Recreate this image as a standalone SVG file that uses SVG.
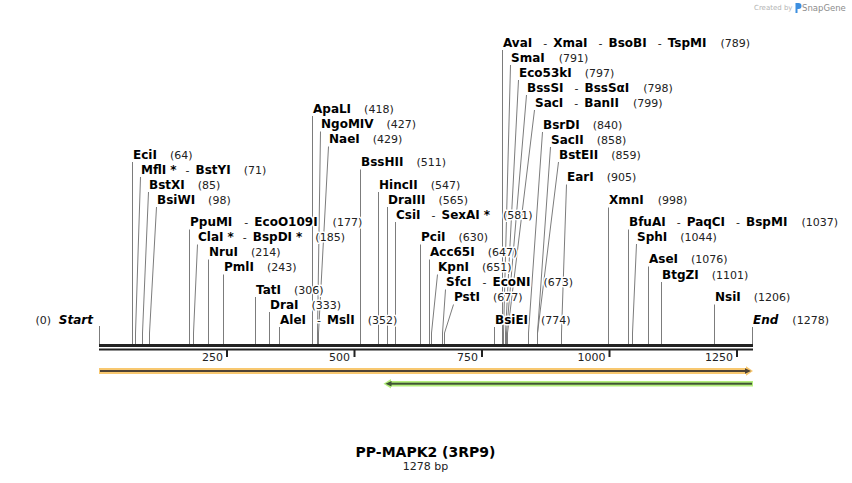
<svg xmlns="http://www.w3.org/2000/svg" width="852" height="483" viewBox="0 0 852 483">
<style>
.nm{font-family:"DejaVu Sans",Verdana,sans-serif;font-weight:bold;font-size:12px;fill:#000;stroke:#fff;stroke-width:3;stroke-linejoin:round;paint-order:stroke}
.pos{font-weight:normal;font-size:11px;fill:#222}
.sep{font-weight:normal;font-size:11px;fill:#222}
.it{font-style:italic}
.ln{fill:none;stroke:#7c7c7c;stroke-width:1}
.tk{font-family:"DejaVu Sans",Verdana,sans-serif;font-size:11px;fill:#222;text-anchor:end}
.bb{fill:#222}
</style>
<rect width="852" height="483" fill="#fff"/>
<g id="watermark">
<text x="754" y="10" font-family="DejaVu Sans,sans-serif" font-size="7px" fill="#b4b4b4">Created by</text>
<path d="M795.5 3 h3 a3 3 0 0 1 0 6 h-1 v4 h-2 z" fill="#3d8fe0"/>
<text x="802" y="11" font-family="DejaVu Sans,sans-serif" font-size="8.5px" fill="#8c8c8c">SnapGene</text>
</g>
<g id="connectors">
<path class="ln" d="M99.5 326V344"/>
<path class="ln" d="M132.5 162V344"/>
<path class="ln" d="M140.5 177L135.5 333V344"/>
<path class="ln" d="M148.5 192L142.5 333V344"/>
<path class="ln" d="M156.5 207L149.5 333V344"/>
<path class="ln" d="M189.5 229.5V344"/>
<path class="ln" d="M197.5 244.5L193.5 333V344"/>
<path class="ln" d="M208.5 259.5V344"/>
<path class="ln" d="M223.5 274.5V344"/>
<path class="ln" d="M255.5 297V344"/>
<path class="ln" d="M269.5 312V344"/>
<path class="ln" d="M279.5 327V344"/>
<path class="ln" d="M312.5 116V344"/>
<path class="ln" d="M320.5 131.5L317.5 333V344"/>
<path class="ln" d="M328.5 146.5L318.5 333V344"/>
<path class="ln" d="M360.5 169.5V344"/>
<path class="ln" d="M378.5 192V344"/>
<path class="ln" d="M387.5 207V344"/>
<path class="ln" d="M395.5 222V344"/>
<path class="ln" d="M420.5 244.5V344"/>
<path class="ln" d="M429.5 259.5V344"/>
<path class="ln" d="M437.5 274.5L431.5 333V344"/>
<path class="ln" d="M445.5 289.5L442.5 333V344"/>
<path class="ln" d="M453.5 304.5L444.5 333V344"/>
<path class="ln" d="M494.5 327V344"/>
<path class="ln" d="M502.5 50V344"/>
<path class="ln" d="M510.5 65L503.5 333V344"/>
<path class="ln" d="M518.5 80L505.5 333V344"/>
<path class="ln" d="M526.5 95L506.5 333V344"/>
<path class="ln" d="M534.5 110L507.5 333V344"/>
<path class="ln" d="M542.5 132L528.5 333V344"/>
<path class="ln" d="M550.5 147L537.5 333V344"/>
<path class="ln" d="M558.5 162L537.5 333V344"/>
<path class="ln" d="M566.5 184.5L561.5 333V344"/>
<path class="ln" d="M608.5 207.5V344"/>
<path class="ln" d="M628.5 229.5V344"/>
<path class="ln" d="M636.5 244L632.5 333V344"/>
<path class="ln" d="M648.5 266.5V344"/>
<path class="ln" d="M661.5 282V344"/>
<path class="ln" d="M714.5 304.5V344"/>
<path class="ln" d="M752.5 327V344"/>
</g>
<g id="backbone">
<rect class="bb" x="99" y="344" width="654" height="3"/>
<rect class="bb" x="99" y="348.5" width="654" height="2"/>
<rect class="bb" x="226" y="350" width="2" height="7"/>
<rect class="bb" x="353.5" y="350" width="2" height="7"/>
<rect class="bb" x="481" y="350" width="2" height="7"/>
<rect class="bb" x="608.5" y="350" width="2" height="7"/>
<rect class="bb" x="736" y="350" width="2" height="7"/>
<text class="tk" x="223" y="361">250</text>
<text class="tk" x="350" y="361">500</text>
<text class="tk" x="478" y="361">750</text>
<text class="tk" x="605.5" y="361">1000</text>
<text class="tk" x="733" y="361">1250</text>
</g>
<g id="feature-orange">
<polygon points="99,368 746,368 746,366.3 753,371 746,375.7 746,374 99,374" fill="#f8c870"/>
<rect x="100" y="370" width="646" height="2" fill="#4e4234"/>
<polygon points="745,368.3 751,371 745,373.7" fill="#4e4234"/>
</g>
<g id="feature-green">
<polygon points="383.5,383.7 391,379 391,381 753,381 753,386.4 391,386.4 391,388.4" fill="#b4ef7c"/>
<rect x="391" y="382.7" width="361" height="2" fill="#3f5334"/>
<polygon points="385.5,383.7 391.5,380.9 391.5,386.5" fill="#3f5334"/>
</g>
<g id="n-Start"><text class="nm pos" x="51" y="324" text-anchor="end">(0)</text><text class="nm it" x="93" y="324" text-anchor="end">Start</text></g>
<g id="n-EciI"><text class="nm" x="133" y="158.5">EciI<tspan class="pos" dx="13">(64)</tspan></text></g>
<g id="n-MflI"><text class="nm" x="141" y="173.5">MflI<tspan dx="4">*</tspan><tspan class="sep" dx="9">-</tspan><tspan dx="6">BstYI</tspan><tspan class="pos" dx="13">(71)</tspan></text></g>
<g id="n-BstXI"><text class="nm" x="149" y="188.5">BstXI<tspan class="pos" dx="13">(85)</tspan></text></g>
<g id="n-BsiWI"><text class="nm" x="157" y="203.5">BsiWI<tspan class="pos" dx="13">(98)</tspan></text></g>
<g id="n-PpuMI"><text class="nm" x="190" y="226">PpuMI<tspan class="sep" dx="12">-</tspan><tspan dx="6">EcoO109I</tspan><tspan class="pos" dx="15">(177)</tspan></text></g>
<g id="n-ClaI"><text class="nm" x="198" y="241">ClaI<tspan dx="4">*</tspan><tspan class="sep" dx="9">-</tspan><tspan dx="6">BspDI</tspan><tspan dx="4">*</tspan><tspan class="pos" dx="13">(185)</tspan></text></g>
<g id="n-NruI"><text class="nm" x="209" y="256">NruI<tspan class="pos" dx="13">(214)</tspan></text></g>
<g id="n-PmlI"><text class="nm" x="224" y="271">PmlI<tspan class="pos" dx="13">(243)</tspan></text></g>
<g id="n-TatI"><text class="nm" x="256" y="293.5">TatI<tspan class="pos" dx="13">(306)</tspan></text></g>
<g id="n-DraI"><text class="nm" x="270" y="308.5">DraI<tspan class="pos" dx="13">(333)</tspan></text></g>
<g id="n-AleI"><text class="nm" x="280" y="323.5">AleI<tspan class="sep" dx="11">-</tspan><tspan dx="6">MslI</tspan><tspan class="pos" dx="13">(352)</tspan></text></g>
<g id="n-ApaLI"><text class="nm" x="313" y="112.5">ApaLI<tspan class="pos" dx="13">(418)</tspan></text></g>
<g id="n-NgoMIV"><text class="nm" x="321" y="128">NgoMIV<tspan class="pos" dx="13">(427)</tspan></text></g>
<g id="n-NaeI"><text class="nm" x="329" y="143">NaeI<tspan class="pos" dx="13">(429)</tspan></text></g>
<g id="n-BssHII"><text class="nm" x="361" y="166">BssHII<tspan class="pos" dx="13">(511)</tspan></text></g>
<g id="n-HincII"><text class="nm" x="379" y="188.5">HincII<tspan class="pos" dx="13">(547)</tspan></text></g>
<g id="n-DraIII"><text class="nm" x="388" y="203.5">DraIII<tspan class="pos" dx="13">(565)</tspan></text></g>
<g id="n-CsiI"><text class="nm" x="396" y="218.5">CsiI<tspan class="sep" dx="11">-</tspan><tspan dx="6">SexAI</tspan><tspan dx="4">*</tspan><tspan class="pos" dx="13">(581)</tspan></text></g>
<g id="n-PciI"><text class="nm" x="421" y="241">PciI<tspan class="pos" dx="13">(630)</tspan></text></g>
<g id="n-Acc65I"><text class="nm" x="430" y="256">Acc65I<tspan class="pos" dx="13">(647)</tspan></text></g>
<g id="n-KpnI"><text class="nm" x="438" y="271">KpnI<tspan class="pos" dx="13">(651)</tspan></text></g>
<g id="n-SfcI"><text class="nm" x="446" y="286">SfcI<tspan class="sep" dx="11">-</tspan><tspan dx="6">EcoNI</tspan><tspan class="pos" dx="13">(673)</tspan></text></g>
<g id="n-PstI"><text class="nm" x="454" y="301">PstI<tspan class="pos" dx="13">(677)</tspan></text></g>
<g id="n-BsiEI"><text class="nm" x="495" y="323.5">BsiEI<tspan class="pos" dx="13">(774)</tspan></text></g>
<g id="n-AvaI"><text class="nm" x="503" y="46.5">AvaI<tspan class="sep" dx="11">-</tspan><tspan dx="6">XmaI</tspan><tspan class="sep" dx="11">-</tspan><tspan dx="6">BsoBI</tspan><tspan class="sep" dx="11">-</tspan><tspan dx="6">TspMI</tspan><tspan class="pos" dx="14">(789)</tspan></text></g>
<g id="n-SmaI"><text class="nm" x="511" y="61.5">SmaI<tspan class="pos" dx="14">(791)</tspan></text></g>
<g id="n-Eco53kI"><text class="nm" x="519" y="76.5">Eco53kI<tspan class="pos" dx="13">(797)</tspan></text></g>
<g id="n-BssSI"><text class="nm" x="527" y="91.5">BssSI<tspan class="sep" dx="11">-</tspan><tspan dx="6">BssSαI</tspan><tspan class="pos" dx="14">(798)</tspan></text></g>
<g id="n-SacI"><text class="nm" x="535" y="106.5">SacI<tspan class="sep" dx="11">-</tspan><tspan dx="6">BanII</tspan><tspan class="pos" dx="14">(799)</tspan></text></g>
<g id="n-BsrDI"><text class="nm" x="543" y="128.5">BsrDI<tspan class="pos" dx="13">(840)</tspan></text></g>
<g id="n-SacII"><text class="nm" x="551" y="143.5">SacII<tspan class="pos" dx="13">(858)</tspan></text></g>
<g id="n-BstEII"><text class="nm" x="559" y="158.5">BstEII<tspan class="pos" dx="13">(859)</tspan></text></g>
<g id="n-EarI"><text class="nm" x="567" y="181">EarI<tspan class="pos" dx="13">(905)</tspan></text></g>
<g id="n-XmnI"><text class="nm" x="609" y="204">XmnI<tspan class="pos" dx="14">(998)</tspan></text></g>
<g id="n-BfuAI"><text class="nm" x="629" y="226">BfuAI<tspan class="sep" dx="11">-</tspan><tspan dx="6">PaqCI</tspan><tspan class="sep" dx="11">-</tspan><tspan dx="6">BspMI</tspan><tspan class="pos" dx="14">(1037)</tspan></text></g>
<g id="n-SphI"><text class="nm" x="637" y="240.5">SphI<tspan class="pos" dx="13">(1044)</tspan></text></g>
<g id="n-AseI"><text class="nm" x="649" y="263">AseI<tspan class="pos" dx="13">(1076)</tspan></text></g>
<g id="n-BtgZI"><text class="nm" x="662" y="278.5">BtgZI<tspan class="pos" dx="13">(1101)</tspan></text></g>
<g id="n-NsiI"><text class="nm" x="715" y="301">NsiI<tspan class="pos" dx="13">(1206)</tspan></text></g>
<g id="n-End"><text class="nm it" x="753" y="323.5">End<tspan class="pos" dx="14" font-style="normal">(1278)</tspan></text></g>
<g id="title">
<text x="425.5" y="457" text-anchor="middle" font-family="DejaVu Sans,Verdana,sans-serif" font-weight="bold" font-size="14px" fill="#000">PP-MAPK2 (3RP9)</text>
<text x="425.5" y="469.5" text-anchor="middle" font-family="DejaVu Sans,Verdana,sans-serif" font-size="11px" fill="#222">1278 bp</text>
</g>
</svg>
